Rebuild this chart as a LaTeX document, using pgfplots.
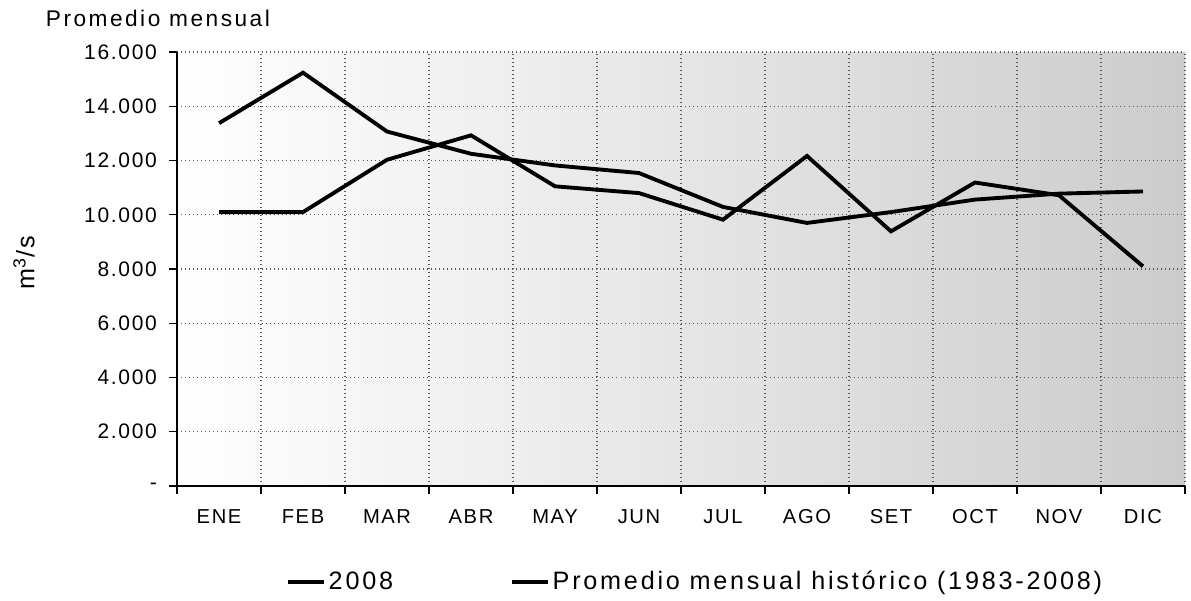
\documentclass[border=0pt]{standalone}
\usepackage{pgfplots}
\pgfplotsset{compat=1.18}
\usepackage{fontspec}
\setmainfont{Liberation Sans}[LetterSpace=8]
\pgfplotstableread{
x y2008 yhist
0 10100 13380
1 10100 15240
2 12030 13070
3 12930 12250
4 11050 11820
5 10800 11540
6 9820 10290
7 12170 9700
8 9390 10100
9 11190 10560
10 10720 10780
11 8100 10860
}\datatable
\begin{document}
\begin{tikzpicture}
\begin{axis}[
  at={(0,0)}, anchor=south west,
  scale only axis,
  width=600pt, height=258.3pt,
  xmin=-0.5, xmax=11.5,
  ymin=0, ymax=16000,
  scaled y ticks=false,
  axis x line*=bottom, axis y line*=left,
  axis line style={black, line width=0.8pt},
  tick align=outside,
  major tick length=4.5pt,
  tick style={black, line width=0.8pt},
  xtick={-0.5,0.5,1.5,2.5,3.5,4.5,5.5,6.5,7.5,8.5,9.5,10.5,11.5},
  xticklabel=\empty,
  extra x ticks={0,1,2,3,4,5,6,7,8,9,10,11},
  extra x tick labels={ENE,FEB,MAR,ABR,MAY,JUN,JUL,AGO,SET,OCT,NOV,DIC},
  extra x tick style={tick style={draw=none}, grid=none},
  ytick={0,2000,4000,6000,8000,10000,12000,14000,16000},
  yticklabels={{-\hspace{14pt}},2.000,4.000,6.000,8.000,10.000,12.000,14.000,16.000},
  xmajorgrids, ymajorgrids,
  grid style={dotted, black!65, line width=0.7pt},
  axis background/.style={shade, left color=white, right color=black!20},
  yticklabel style={font=\fontsize{12.5}{14}\selectfont, xshift=-4pt},
  xticklabel style={font=\fontsize{12}{14}\selectfont, yshift=-6pt},
  ylabel={m\textsuperscript{3}/s},
  every axis y label/.style={at={(axis description cs:-0.152,0.514)}, rotate=90, anchor=center, font=\fontsize{15}{17}\selectfont},
  title={Promedio mensual},
  every axis title/.style={at={(axis description cs:-0.136,1.0786)}, anchor=west, font=\fontsize{13.5}{15}\selectfont\addfontfeature{LetterSpace=11}},
  legend columns=2,
  legend style={draw=none, fill=none, at={(axis description cs:0.515,-0.221)}, anchor=center,
    font=\fontsize{15}{17}\selectfont\addfontfeature{LetterSpace=11},
    /tikz/every even column/.append style={column sep=68pt}},
  legend image code/.code={\draw[#1, line width=2pt] (0pt,0pt) -- (21pt,0pt);},
]
\addplot[black, line width=2.3pt] table[x=x, y=y2008] {\datatable};
\addlegendentry{2008}
\addplot[black, line width=2.3pt] table[x=x, y=yhist] {\datatable};
\addlegendentry{Promedio mensual histórico (1983-2008)}
\end{axis}
\path (-105.4pt,-67.9pt) rectangle (603.6pt,289.3pt);
\end{tikzpicture}
\end{document}
